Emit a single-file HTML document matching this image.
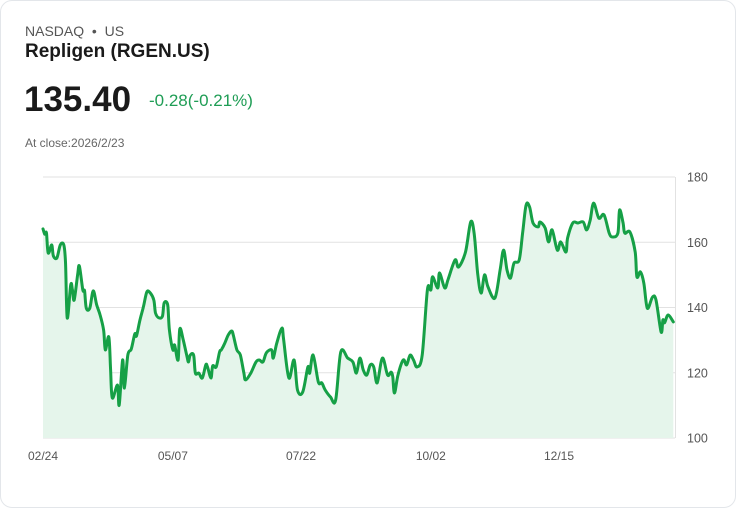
<!DOCTYPE html>
<html><head><meta charset="utf-8">
<style>
html,body{margin:0;padding:0;background:#fff;}
body{width:736px;height:508px;position:relative;font-family:"Liberation Sans",sans-serif;overflow:hidden;}
.card{position:absolute;left:0;top:0;width:734px;height:506px;border:1px solid #e3e6ea;border-radius:12px;}
.t{position:absolute;white-space:nowrap;}
</style></head><body>
<div class="card"></div>
<div class="t" style="left:25px;top:23px;font-size:14px;color:#555;">NASDAQ &nbsp;•&nbsp; US</div>
<div class="t" style="left:25px;top:41px;font-size:19px;font-weight:bold;color:#1a1a1a;">Repligen (RGEN.US)</div>
<div class="t" style="left:24px;top:80px;font-size:35px;font-weight:bold;color:#1a1a1a;">135.40</div>
<div class="t" style="left:149px;top:91px;font-size:17px;color:#1f9d55;">-0.28(-0.21%)</div>
<div class="t" style="left:25px;top:136px;font-size:12px;color:#666;">At close:2026/2/23</div>
<svg id="chart" width="736" height="508" style="position:absolute;left:0;top:0;"></svg>
<script>
const days=[0,1,2,3,5,6,8,10,12,13,14,16,17,18,20,21,23,24,25,27,29,31,33,35,36,38,39,40,43,44,46,47,49,51,53,54,56,58,60,62,64,65,67,69,70,72,73,75,76,78,79,81,83,84,85,87,88,90,92,94,95,97,98,100,102,103,105,107,109,110,112,114,116,117,120,123,125,127,129,132,133,135,138,139,142,145,147,150,153,154,156,159,161,163,166,169,172,176,179,181,183,185,187,189,191,193,196,199,201,202,203,205,208,210,212,214,216,219,222,224,225,228,229,232,234,238,240,244,247,249,251,253,255,257,261,264,266,268,270,272,275,277,279,281,283,286,287,290,292,294,297,299,302,303,306,309,312,314,316,318,321,324,327,329,332,333,335,336,339,342,343,345,347,349,352,354,357,358,359,361,364];
const prices=[164.1,162.5,162.8,156.7,159.2,155.8,155.2,159.2,159.2,153.9,136.8,146.9,145.4,142.3,150.0,152.7,145.4,145.1,139.8,139.8,145.1,140.8,137.7,133.1,127.0,131.0,121.5,112.3,116.2,110.1,123.9,115.3,125.4,127.3,131.9,131.3,136.2,140.2,144.8,144.4,142.3,138.3,136.8,137.4,141.4,140.8,133.1,127.0,128.5,123.9,133.4,130.0,125.4,123.3,125.4,125.4,119.9,119.9,118.4,122.4,121.8,118.4,122.1,121.8,126.4,127.0,129.1,131.6,132.8,131.3,127.0,125.4,119.9,117.8,119.9,123.3,123.9,123.3,126.1,127.0,124.5,129.1,133.7,130.0,118.4,123.9,114.7,114.1,121.8,119.9,125.4,117.2,116.9,114.7,112.6,111.6,126.4,124.5,123.3,119.9,124.5,120.8,119.3,122.4,121.8,116.9,124.5,119.3,120.2,118.7,113.8,119.3,123.9,122.4,125.4,123.9,121.8,125.4,145.4,145.4,149.4,146.0,150.6,146.0,148.7,154.6,152.4,157.0,166.2,162.8,150.6,144.4,150.0,146.3,142.9,151.5,157.6,151.5,149.0,153.6,154.6,162.8,171.4,170.8,165.9,164.7,166.2,164.4,160.1,163.8,157.6,160.1,157.0,161.3,165.9,165.9,166.2,163.8,166.8,172.0,167.4,168.4,162.8,161.6,162.8,169.9,165.9,162.8,163.1,157.0,149.4,150.9,147.5,139.8,143.2,142.3,132.5,136.2,135.3,137.7,135.6];
const yTicks=[100,120,140,160,180];
const xLabels=["02/24","05/07","07/22","10/02","12/15"];
const xLabelDays=[0,75,149,224,298];

const NS="http://www.w3.org/2000/svg";
const svg=document.getElementById('chart');
const X0=43,X1=675,Y0=438,Y1=177,D0=0,D1=365,V0=100,V1=180;
const xs=d=>X0+(d-D0)/(D1-D0)*(X1-X0);
const ys=v=>Y0-(v-V0)/(V1-V0)*(Y0-Y1);
function mk(tag,attrs){const e=document.createElementNS(NS,tag);for(const k in attrs)e.setAttribute(k,attrs[k]);svg.appendChild(e);return e;}
yTicks.forEach(v=>{
  const g=mk('line',{x1:X0,x2:X1,y1:ys(v),y2:ys(v),stroke:'#e2e2e2','stroke-width':1});
  
  
  const t=mk('text',{x:687,y:ys(v)+4.5,'font-size':12.5,fill:'#555','font-family':'Liberation Sans, sans-serif'});
  t.textContent=v;
  
  
});
const ax=mk('line',{x1:X1+0.5,x2:X1+0.5,y1:Y1,y2:Y0,stroke:'#e2e2e2','stroke-width':1});


xLabels.forEach((l,i)=>{
  const t=mk('text',{x:xs(xLabelDays[i]),y:460,'font-size':12,fill:'#555','text-anchor':'middle','font-family':'Liberation Sans, sans-serif'});
  t.textContent=l;
  
  
});
const pts=days.map((d,i)=>[xs(d),ys(prices[i])]);
let dstr='M'+pts[0][0].toFixed(1)+' '+pts[0][1].toFixed(1);
for(let i=0;i<pts.length-1;i++){
  const p0=pts[Math.max(0,i-1)],p1=pts[i],p2=pts[i+1],p3=pts[Math.min(pts.length-1,i+2)];
  const c1=[p1[0]+(p2[0]-p0[0])/6,p1[1]+(p2[1]-p0[1])/6];
  const c2=[p2[0]-(p3[0]-p1[0])/6,p2[1]-(p3[1]-p1[1])/6];
  dstr+=` C${c1[0].toFixed(1)} ${c1[1].toFixed(1)} ${c2[0].toFixed(1)} ${c2[1].toFixed(1)} ${p2[0].toFixed(1)} ${p2[1].toFixed(1)}`;
}
const area=mk('path',{d:dstr+` L${pts[pts.length-1][0].toFixed(1)} ${Y0} L${pts[0][0].toFixed(1)} ${Y0} Z`,fill:'#e5f5eb',stroke:'none'});


const line=mk('path',{d:dstr,fill:'none',stroke:'#16a046','stroke-width':3,'stroke-linejoin':'round','stroke-linecap':'round'});


</script>
</body></html>
